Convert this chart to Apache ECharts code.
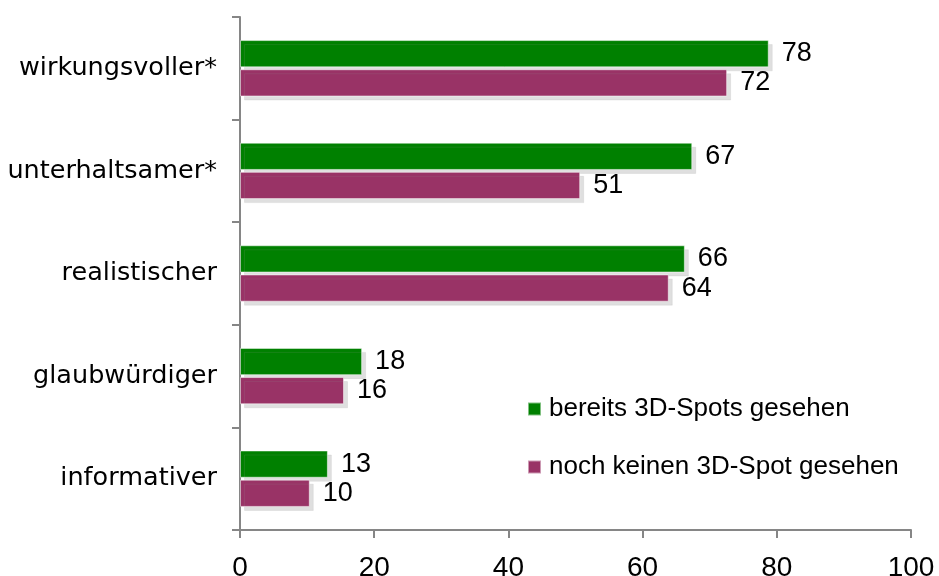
<!DOCTYPE html>
<html>
<head>
<meta charset="utf-8">
<script src="https://cdn.jsdelivr.net/npm/echarts@6/dist/echarts.min.js"></script>
<style>
html,body{margin:0;padding:0;background:#fff;}
#chart{width:939px;height:576px;}
</style>
</head>
<body>
<div id="chart"></div>
<script>
var categories = ['wirkungsvoller*', 'unterhaltsamer*', 'realistischer', 'glaubwürdiger', 'informativer'];
var seriesNames = ['bereits 3D-Spots gesehen', 'noch keinen 3D-Spot gesehen'];
var seenValues = [78.8, 67.4, 66.3, 18.2, 13.1];
var notSeenValues = [72.6, 50.7, 63.9, 15.5, 10.4];
var seenLabels = [78, 67, 66, 18, 13];
var notSeenLabels = [72, 51, 64, 16, 10];
var xTicks = [0, 20, 40, 60, 80, 100];

var axisGray = '#868686';
var chart = echarts.init(document.getElementById('chart'));

function barSeries(name, values, labels, color) {
  return {
    name: name,
    type: 'bar',
    data: values,
    barGap: '7%',
    barCategoryGap: '45%',
    itemStyle: {
      color: color,
      borderColor: 'rgba(255,255,255,0.5)',
      borderWidth: 1,
      shadowColor: 'rgba(150,150,150,0.3)',
      shadowOffsetX: 4,
      shadowOffsetY: 4,
      shadowBlur: 0
    },
    label: {
      show: true,
      position: 'right',
      distance: 13,
      color: '#000',
      fontFamily: 'Liberation Sans, Arial, sans-serif',
      fontSize: 27,
      formatter: function (p) { return labels[p.dataIndex]; }
    },
    emphasis: { disabled: true },
    animation: false
  };
}

chart.setOption({
  animation: false,
  grid: { left: 240, right: 28, top: 17, bottom: 46, containLabel: false, outerBoundsMode: 'none' },
  legend: {
    orient: 'vertical',
    left: 527,
    top: 396,
    padding: 0,
    itemWidth: 13,
    itemHeight: 13,
    itemGap: 32,
    icon: 'rect',
    selectedMode: false,
    data: seriesNames,
    textStyle: {
      color: '#000',
      fontFamily: 'Liberation Sans, Arial, sans-serif',
      fontSize: 26,
      lineHeight: 26,
      padding: [0, 0, 0, 3]
    }
  },
  xAxis: {
    type: 'value',
    min: xTicks[0],
    max: xTicks[xTicks.length - 1],
    interval: 20,
    axisLine: { show: true, lineStyle: { color: axisGray, width: 2 } },
    axisTick: { show: true, length: 8, lineStyle: { color: axisGray, width: 2 } },
    splitLine: { show: false },
    axisLabel: {
      margin: 24,
      color: '#000',
      fontFamily: 'Liberation Sans, Arial, sans-serif',
      fontSize: 28
    }
  },
  yAxis: {
    type: 'category',
    inverse: true,
    data: categories,
    axisLine: { show: true, lineStyle: { color: axisGray, width: 2 } },
    axisTick: { show: true, length: 8, lineStyle: { color: axisGray, width: 2 } },
    splitLine: { show: false },
    axisLabel: {
      margin: 23,
      color: '#000',
      fontFamily: 'DejaVu Sans, sans-serif',
      fontSize: 25.5
    }
  },
  series: [
    barSeries(seriesNames[0], seenValues, seenLabels, '#008000'),
    barSeries(seriesNames[1], notSeenValues, notSeenLabels, '#993366')
  ]
});
</script>
</body>
</html>
